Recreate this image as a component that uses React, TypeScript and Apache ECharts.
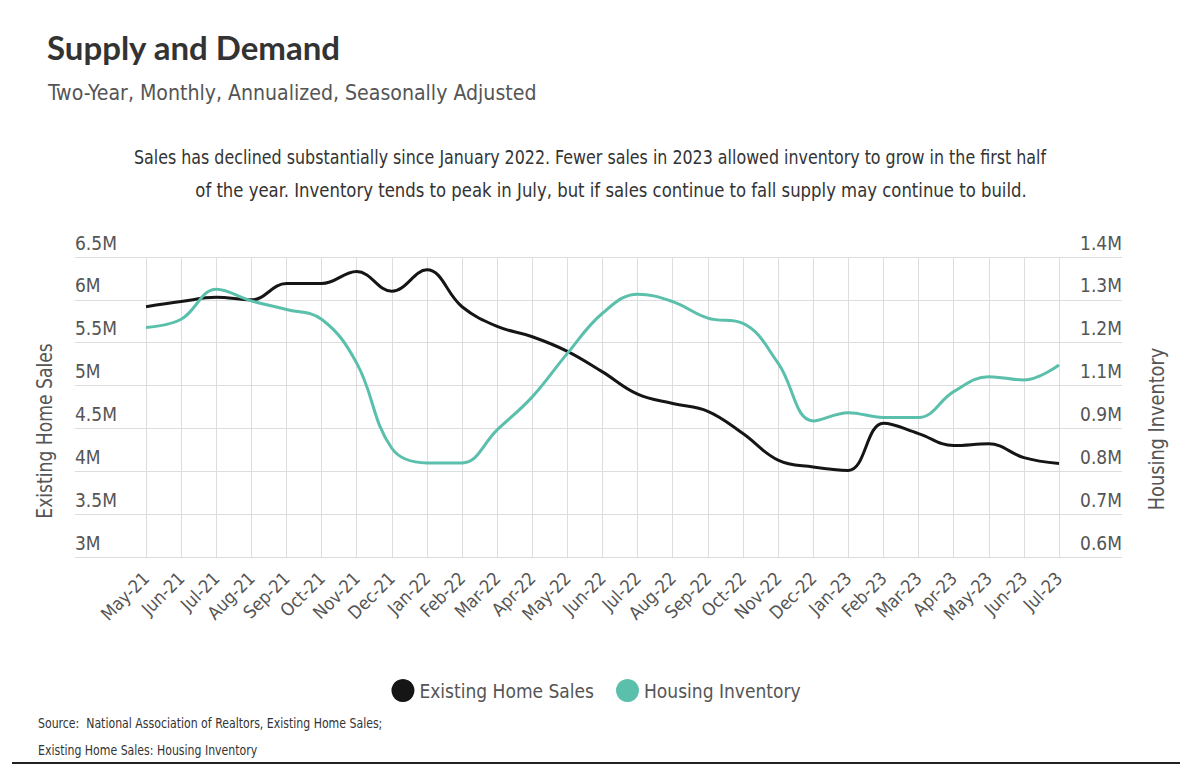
import React, { useEffect, useRef } from "react";
import * as echarts from "echarts";

const months = [
  "May-21", "Jun-21", "Jul-21", "Aug-21", "Sep-21", "Oct-21", "Nov-21", "Dec-21",
  "Jan-22", "Feb-22", "Mar-22", "Apr-22", "May-22", "Jun-22", "Jul-22", "Aug-22",
  "Sep-22", "Oct-22", "Nov-22", "Dec-22", "Jan-23", "Feb-23", "Mar-23", "Apr-23",
  "May-23", "Jun-23", "Jul-23",
];

const existingHomeSales = [
  5920000, 5980000, 6030000, 6000000, 6190000, 6190000, 6330000, 6100000,
  6350000, 5920000, 5690000, 5570000, 5400000, 5160000, 4900000, 4790000,
  4700000, 4440000, 4130000, 4050000, 4010000, 4560000, 4440000, 4300000,
  4320000, 4160000, 4090000,
];

const housingInventory = [
  1212000, 1234000, 1314000, 1283000, 1260000, 1234000, 1117000, 890000,
  851000, 851000, 939000, 1027000, 1143000, 1250000, 1301000, 1281000,
  1237000, 1223000, 1117000, 963000, 985000, 972000, 972000, 1041000,
  1081000, 1072000, 1112000,
];

const salesAxis = { min: 3000000, max: 6500000, interval: 500000 };
const inventoryAxis = { min: 600000, max: 1400000 };

const FONT = "'Liberation Sans Narrow', 'DejaVu Sans Condensed', 'Roboto', sans-serif";
const GREY = "#555555";
const BLACK = "#151515";
const TEAL = "#5abfab";
const GRID = "#dddddd";

export default function App() {
  const ref = useRef<HTMLDivElement>(null);

  useEffect(() => {
    if (!ref.current) return;
    const chart = echarts.init(ref.current, undefined, { renderer: "svg" });
    const gridTop = 257;
    const gridHeight = 300;
    const option: any = {
      animation: false,
      backgroundColor: "#ffffff",
      textStyle: { fontFamily: FONT },
      grid: [
        { left: 75, right: 70, top: gridTop, height: gridHeight },
        { left: 146, right: 133, top: gridTop, height: gridHeight },
      ],
      xAxis: [
        { gridIndex: 0, type: "value", min: 0, max: 1, show: false },
        {
          gridIndex: 1,
          type: "category",
          data: months,
          boundaryGap: false,
          axisLine: { show: false },
          axisTick: { show: false },
          splitLine: { show: true, interval: 0, lineStyle: { color: GRID, width: 1 } },
          axisLabel: {
            interval: 0,
            rotate: 45,
            margin: 18,
            color: GREY,
            fontSize: 18,
            fontFamily: FONT,
          },
        },
      ],
      yAxis: [
        {
          gridIndex: 0,
          type: "value",
          position: "left",
          min: salesAxis.min,
          max: salesAxis.max,
          interval: salesAxis.interval,
          axisLine: { show: false },
          axisTick: { show: false },
          splitLine: { show: true, lineStyle: { color: GRID, width: 1 } },
          axisLabel: {
            inside: true,
            margin: 0,
            verticalAlign: "bottom",
            padding: [0, 0, 5, 0],
            color: GREY,
            fontSize: 19,
            fontFamily: FONT,
            formatter: (v: number) => `${v / 1000000}M`,
          },
        },
        {
          gridIndex: 0,
          type: "value",
          position: "right",
          min: inventoryAxis.min,
          max: inventoryAxis.max,
          alignTicks: true,
          axisLine: { show: false },
          axisTick: { show: false },
          splitLine: { show: false },
          axisLabel: {
            inside: true,
            margin: 0,
            verticalAlign: "bottom",
            padding: [0, 0, 5, 0],
            color: GREY,
            fontSize: 19,
            fontFamily: FONT,
            formatter: (v: number) => `${(v / 1000000).toFixed(1)}M`,
          },
        },
        {
          gridIndex: 1,
          type: "value",
          min: salesAxis.min,
          max: salesAxis.max,
          show: false,
          splitLine: { show: false },
        },
        {
          gridIndex: 1,
          type: "value",
          position: "right",
          min: inventoryAxis.min,
          max: inventoryAxis.max,
          show: false,
          splitLine: { show: false },
        },
      ],
      legend: {
        top: 674,
        left: "center",
        icon: "circle",
        itemWidth: 23,
        itemHeight: 23,
        itemGap: 22,
        textStyle: { color: GREY, fontSize: 19, fontFamily: FONT },
        data: ["Existing Home Sales", "Housing Inventory"],
      },
      series: [
        {
          name: "Existing Home Sales",
          type: "line",
          xAxisIndex: 1,
          yAxisIndex: 2,
          data: existingHomeSales,
          smooth: 0.4,
          showSymbol: false,
          symbol: "circle",
          itemStyle: { color: BLACK },
          lineStyle: { color: BLACK, width: 3 },
        },
        {
          name: "Housing Inventory",
          type: "line",
          xAxisIndex: 1,
          yAxisIndex: 3,
          data: housingInventory,
          smooth: 0.4,
          showSymbol: false,
          symbol: "circle",
          itemStyle: { color: TEAL },
          lineStyle: { color: TEAL, width: 3 },
        },
      ],
      graphic: [
        {
          type: "text",
          x: 47,
          y: 47,
          style: {
            text: "Supply and Demand",
            font: "bold 33px Lato, 'Noto Sans', sans-serif",
            fill: "#333333",
            align: "left",
            verticalAlign: "middle",
          },
        },
        {
          type: "text",
          x: 48,
          y: 92,
          scaleX: 0.96,
          style: {
            text: "Two-Year, Monthly, Annualized, Seasonally Adjusted",
            fontFamily: FONT,
            fontSize: 22,
            fill: GREY,
            align: "left",
            verticalAlign: "middle",
          },
        },
        {
          type: "text",
          x: 590,
          y: 157,
          scaleX: 0.93,
          style: {
            text: "Sales has declined substantially since January 2022. Fewer sales in 2023 allowed inventory to grow in the first half",
            fontFamily: FONT,
            fontSize: 19,
            fill: "#333333",
            align: "center",
            verticalAlign: "middle",
          },
        },
        {
          type: "text",
          x: 611,
          y: 190,
          scaleX: 0.965,
          style: {
            text: "of the year. Inventory tends to peak in July, but if sales continue to fall supply may continue to build.",
            fontFamily: FONT,
            fontSize: 19,
            fill: "#333333",
            align: "center",
            verticalAlign: "middle",
          },
        },
        {
          type: "text",
          x: 45,
          y: 431,
          rotation: Math.PI / 2,
          scaleX: 0.91,
          style: {
            text: "Existing Home Sales",
            fontFamily: FONT,
            fontSize: 21,
            fill: GREY,
            align: "center",
            verticalAlign: "middle",
          },
        },
        {
          type: "text",
          x: 1157,
          y: 429,
          rotation: Math.PI / 2,
          scaleX: 0.94,
          style: {
            text: "Housing Inventory",
            fontFamily: FONT,
            fontSize: 21,
            fill: GREY,
            align: "center",
            verticalAlign: "middle",
          },
        },
        {
          type: "text",
          x: 38,
          y: 723,
          scaleX: 0.87,
          style: {
            text: "Source:  National Association of Realtors, Existing Home Sales;",
            fontFamily: FONT,
            fontSize: 14,
            fill: "#333333",
            align: "left",
            verticalAlign: "middle",
          },
        },
        {
          type: "text",
          x: 38,
          y: 750,
          scaleX: 0.87,
          style: {
            text: "Existing Home Sales: Housing Inventory",
            fontFamily: FONT,
            fontSize: 14,
            fill: "#333333",
            align: "left",
            verticalAlign: "middle",
          },
        },
        {
          type: "line",
          shape: { x1: 12, y1: 763, x2: 1180, y2: 763 },
          style: { stroke: "#222222", lineWidth: 2 },
        },
      ],
    };
    chart.setOption(option);
    return () => chart.dispose();
  }, []);

  return (
    <div
      ref={ref}
      style={{ position: "fixed", left: 0, top: 0, width: 1192, height: 780, background: "#fff" }}
    />
  );
}
